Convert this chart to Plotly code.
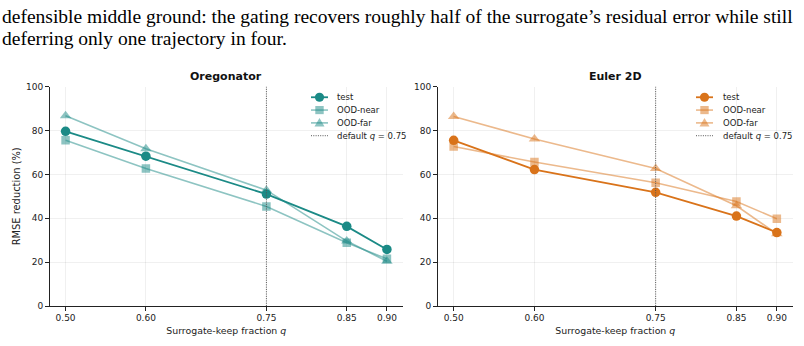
import plotly.graph_objects as go

q_values = [0.50, 0.60, 0.75, 0.85, 0.90]
tick_labels = ["0.50", "0.60", "0.75", "0.85", "0.90"]
default_q = 0.75
y_ticks = [0, 20, 40, 60, 80, 100]

oreg_test = [79.6, 68.3, 51.0, 36.3, 25.8]
oreg_near = [75.5, 62.7, 45.4, 28.8, 21.5]
oreg_far = [86.7, 71.7, 52.8, 29.6, 20.4]

euler_test = [75.5, 62.2, 51.8, 41.0, 33.5]
euler_near = [72.7, 65.6, 56.2, 47.6, 39.8]
euler_far = [86.4, 76.1, 62.7, 45.7, 32.9]

series_names = ["test", "OOD-near", "OOD-far", "default <i>q</i> = 0.75"]

TEAL = "#1b8a86"
ORANGE = "#d9731a"
VLINE = "#555555"

header_lines = [
    "defensible middle ground: the gating recovers roughly half of the surrogate\u2019s residual error while still",
    "deferring only one trajectory in four.",
]

H = 346
W = 804


def py(p):
    return 1 - p / H


def px_(p):
    return p / W


def rgba(hexc, a):
    h = hexc.lstrip("#")
    r, g, b = int(h[0:2], 16), int(h[2:4], 16), int(h[4:6], 16)
    return f"rgba({r},{g},{b},{a})"


fig = go.Figure()

# layout geometry (pixels)
xdom1 = [px_(49.5), px_(403)]
xdom2 = [px_(437.5), px_(793)]
ydom = [py(310), py(84)]
legend_line_x = [(311, 328), (696, 713)]  # handle start/end per panel
legend_text_x = [335, 721]
legend_rows = [95, 108.2, 121.4, 134.6]

panels = [
    ("x", "y", "Oregonator", TEAL, oreg_test, oreg_near, oreg_far, xdom1),
    ("x2", "y2", "Euler 2D", ORANGE, euler_test, euler_near, euler_far, xdom2),
]

shapes = []
annotations = []

for pi, (xa, ya, title, col, t, n, f, xdom) in enumerate(panels):
    styles = [
        dict(line=dict(color=col, width=1.8), marker=dict(symbol="circle", size=9.5, color=col)),
        dict(line=dict(color=rgba(col, 0.5), width=1.6), marker=dict(symbol="square", size=8.5, color=rgba(col, 0.5))),
        dict(line=dict(color=rgba(col, 0.5), width=1.6), marker=dict(symbol="triangle-up", size=10, color=rgba(col, 0.5))),
    ]
    for name, vals, st in zip(series_names[:3], [t, n, f], styles):
        fig.add_trace(go.Scatter(x=q_values, y=vals, xaxis=xa, yaxis=ya, name=name,
                                 mode="lines+markers", showlegend=False, **st))
    fig.add_trace(go.Scatter(x=[default_q, default_q], y=[y_ticks[0], y_ticks[-1]], xaxis=xa, yaxis=ya,
                             name=series_names[3], mode="lines", showlegend=False,
                             line=dict(color=VLINE, width=1, dash="1px,1.3px")))

    # manual legend (layout only)
    x0, x1 = legend_line_x[pi]
    xc = (x0 + x1) / 2
    for ri, (name, yrow) in enumerate(zip(series_names, legend_rows)):
        if ri < 3:
            st = styles[ri]
            shapes.append(dict(type="line", xref="paper", yref="paper",
                               x0=px_(x0), x1=px_(x1), y0=py(yrow), y1=py(yrow),
                               line=dict(color=st["line"]["color"], width=st["line"]["width"])))
            mc = st["marker"]["color"]
            if ri == 0:
                r = 4.6
                shapes.append(dict(type="circle", xref="paper", yref="paper",
                                   x0=px_(xc - r), x1=px_(xc + r), y0=py(yrow + r), y1=py(yrow - r),
                                   fillcolor=mc, line=dict(width=0)))
            elif ri == 1:
                r = 4.2
                shapes.append(dict(type="rect", xref="paper", yref="paper",
                                   x0=px_(xc - r), x1=px_(xc + r), y0=py(yrow + r), y1=py(yrow - r),
                                   fillcolor=mc, line=dict(width=0)))
            else:
                r = 5
                path = (f"M {px_(xc - r)} {py(yrow + r * 0.75)} L {px_(xc + r)} {py(yrow + r * 0.75)} "
                        f"L {px_(xc)} {py(yrow - r)} Z")
                shapes.append(dict(type="path", xref="paper", yref="paper", path=path,
                                   fillcolor=mc, line=dict(width=0)))
        else:
            shapes.append(dict(type="line", xref="paper", yref="paper",
                               x0=px_(x0), x1=px_(x1), y0=py(yrow), y1=py(yrow),
                               line=dict(color=VLINE, width=1, dash="1px,1.3px")))
        annotations.append(dict(text=name, x=px_(legend_text_x[pi]), y=py(yrow), xref="paper", yref="paper",
                                xanchor="left", yanchor="middle", showarrow=False,
                                font=dict(family="DejaVu Sans", size=8.5, color="#222222")))

    annotations.append(dict(text=f"<b>{title}</b>", x=(xdom[0] + xdom[1]) / 2, y=py(74), xref="paper",
                            yref="paper", xanchor="center", yanchor="middle", showarrow=False,
                            font=dict(family="DejaVu Sans", size=11, color="#111111")))

axis_common = dict(
    showline=True, linecolor="#222222", linewidth=1,
    ticks="outside", ticklen=3.5, tickcolor="#222222", tickwidth=1,
    showgrid=True, gridcolor="rgba(0,0,0,0.06)", gridwidth=1,
    zeroline=False, mirror=False,
    tickfont=dict(family="DejaVu Sans", size=9, color="#222222"),
)

xtitle = dict(text="Surrogate-keep fraction <i>q</i>",
              font=dict(family="DejaVu Sans", size=9.4, color="#222222"), standoff=5)

fig.update_layout(
    width=W, height=H,
    margin=dict(l=0, r=0, t=0, b=0),
    paper_bgcolor="white", plot_bgcolor="white",
    showlegend=False,
    xaxis=dict(domain=xdom1, anchor="y", range=[0.48, 0.92], tickvals=q_values, ticktext=tick_labels,
               title=xtitle, **axis_common),
    yaxis=dict(domain=ydom, anchor="x", range=[0, 100], tickvals=y_ticks,
               title=dict(text="RMSE reduction (%)",
                          font=dict(family="DejaVu Sans", size=9.9, color="#222222"), standoff=3),
               **axis_common),
    xaxis2=dict(domain=xdom2, anchor="y2", range=[0.48, 0.92], tickvals=q_values, ticktext=tick_labels,
                title=xtitle, **axis_common),
    yaxis2=dict(domain=ydom, anchor="x2", range=[0, 100], tickvals=y_ticks, **axis_common),
)

for i, line in enumerate(header_lines):
    annotations.append(dict(text=line, x=0, y=py(12 + 22.5 * i), xref="paper", yref="paper",
                            xanchor="left", yanchor="middle", showarrow=False,
                            font=dict(family="Liberation Serif", size=19.5, color="#000000")))

fig.update_layout(shapes=shapes, annotations=annotations)

fig.write_html("out.html")
